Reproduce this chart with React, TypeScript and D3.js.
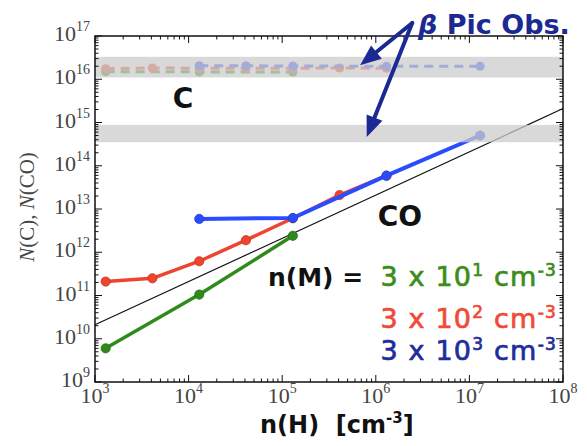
import React from "react";
import * as d3 from "d3";

// CO column densities (solid) for n(M) = 3e1, 3e2, 3e3 cm^-3, vs n(H) [cm^-3]
const coGreen: [number, number][] = [[1.3e3, 6.0e9], [1.3e4, 1.05e11], [1.3e5, 2.4e12]];
const coRed: [number, number][] = [[1.3e3, 2.1e11], [4.1e3, 2.5e11], [1.3e4, 6.2e11], [4.1e4, 1.9e12], [1.3e5, 6.1e12], [4.1e5, 2.1e13], [1.3e6, 5.9e13]];
const coBlue: [number, number][] = [[1.3e4, 5.9e12], [1.3e5, 6.2e12], [1.3e6, 5.9e13], [1.3e7, 5.0e14]];

// C column densities (dashed)
const cGreen: [number, number][] = [[1.3e3, 1.5e16], [1.3e4, 1.48e16], [1.3e5, 1.48e16]];
const cRed: [number, number][] = [[1.3e3, 1.75e16], [4.1e3, 1.82e16], [1.3e4, 1.8e16], [4.1e4, 1.8e16], [1.3e5, 1.8e16], [4.1e5, 1.82e16], [1.3e6, 1.8e16]];
const cBlue: [number, number][] = [[1.3e4, 2.05e16], [4.1e4, 2.05e16], [1.3e5, 2.02e16], [1.3e6, 2.0e16], [1.3e7, 2.0e16]];

// Reference line N = k * n(H)
const refLine: [number, number][] = [[1e3, 2.1e10], [1e8, 2.1e15]];

// Observed ranges (beta Pic)
const cBand = [1.1e16, 3.3e16];
const coBand = [3.5e14, 8.8e14];

const xDecades = [3, 4, 5, 6, 7, 8];
const yDecades = [9, 10, 11, 12, 13, 14, 15, 16, 17];

// legend rows: exponent of n(M), colour
const legendExp = ["1", "2", "3"];
const legendColors = ["#3d8d1c", "#f04a38", "#1f2d9c"];

const GREEN = "#2f8a1c";
const RED = "#ee4430";
const BLUE = "#2a4cff";
const NAVY = "#1a2a92";

const W = 587, H = 446;
const L = 95, R = 563, T = 36, B = 382;

export default function App() {
  const x = d3.scaleLog().domain([1e3, 1e8]).range([L, R]);
  const y = d3.scaleLog().domain([1e9, 1e17]).range([B, T]);
  const line = d3.line<[number, number]>().x(d => x(d[0])).y(d => y(d[1]));

  const minorX: number[] = [];
  xDecades.slice(0, -1).forEach(e => { for (let k = 2; k < 10; k++) minorX.push(k * 10 ** e); });
  const minorY: number[] = [];
  yDecades.slice(0, -1).forEach(e => { for (let k = 2; k < 10; k++) minorY.push(k * 10 ** e); });

  const solid = (data: [number, number][], color: string, w: number) => (
    <g>
      <path d={line(data) || ""} fill="none" stroke={color} strokeWidth={w} strokeLinejoin="round" />
      {data.map((d, i) => (
        <circle key={i} cx={x(d[0])} cy={y(d[1])} r={4.6} fill={color} stroke={d3.color(color)!.darker(0.6).toString()} strokeWidth={0.8} />
      ))}
    </g>
  );
  const dashed = (data: [number, number][], color: string) => (
    <g>
      <path d={line(data) || ""} fill="none" stroke={color} strokeWidth={3} strokeDasharray="9,6" />
      {data.map((d, i) => (
        <circle key={i} cx={x(d[0])} cy={y(d[1])} r={4.6} fill={color} />
      ))}
    </g>
  );

  // Annotation arrows in data coordinates
  const arrowFrom: [number, number] = [2.45e6, 2.0e17];
  const arrowTips: [number, number][] = [[6.8e5, 2.1e16], [8.0e5, 4.6e14]];
  const arrow = (tip: [number, number], key: number) => {
    const x0 = x(arrowFrom[0]), y0 = y(arrowFrom[1]);
    const x1 = x(tip[0]), y1 = y(tip[1]);
    const ang = Math.atan2(y1 - y0, x1 - x0);
    const hl = 21, hw = 8.5;
    const bx = x1 - hl * Math.cos(ang), by = y1 - hl * Math.sin(ang);
    const px = -Math.sin(ang), py = Math.cos(ang);
    const pts = [[x1, y1], [bx + hw * px, by + hw * py], [bx - hw * px, by - hw * py]];
    return (
      <g key={key}>
        <line x1={x0} y1={y0} x2={bx} y2={by} stroke={NAVY} strokeWidth={4} strokeLinecap="round" />
        <polygon points={pts.map(p => p.join(",")).join(" ")} fill={NAVY} />
      </g>
    );
  };

  const tickFont = "'Liberation Serif', 'DejaVu Serif', serif";
  const sans = "'DejaVu Sans', sans-serif";
  const legendY = [286, 328, 360];

  return (
    <svg width={W} height={H} style={{ position: "absolute", left: 0, top: 0, background: "#fff" }}>
      {/* reference line */}
      <path d={line(refLine) || ""} fill="none" stroke="#111" strokeWidth={1.2} />

      {/* CO columns */}
      {solid(coGreen, GREEN, 3.5)}
      {solid(coRed, RED, 3.5)}
      {solid(coBlue, BLUE, 4)}

      {/* C columns */}
      {dashed(cGreen, GREEN)}
      {dashed(cRed, RED)}
      {dashed(cBlue, BLUE)}

      {/* observed ranges, drawn over the curves */}
      {[cBand, coBand].map((b, i) => (
        <rect key={i} x={L} width={R - L} y={y(b[1])} height={y(b[0]) - y(b[1])} fill="#cccccc" opacity={0.75} />
      ))}

      {/* frame */}
      <rect x={L} y={T} width={R - L} height={B - T} fill="none" stroke="#111" strokeWidth={1.5} />

      {/* ticks, inward on all sides */}
      <g stroke="#111" strokeWidth={1}>
        {xDecades.map(e => (
          <g key={"xM" + e}>
            <line x1={x(10 ** e)} x2={x(10 ** e)} y1={B} y2={B - 7} />
            <line x1={x(10 ** e)} x2={x(10 ** e)} y1={T} y2={T + 7} />
          </g>
        ))}
        {minorX.map((v, i) => (
          <g key={"xm" + i}>
            <line x1={x(v)} x2={x(v)} y1={B} y2={B - 3.5} />
            <line x1={x(v)} x2={x(v)} y1={T} y2={T + 3.5} />
          </g>
        ))}
        {yDecades.map(e => (
          <g key={"yM" + e}>
            <line x1={L} x2={L + 7} y1={y(10 ** e)} y2={y(10 ** e)} />
            <line x1={R} x2={R - 7} y1={y(10 ** e)} y2={y(10 ** e)} />
          </g>
        ))}
        {minorY.map((v, i) => (
          <g key={"ym" + i}>
            <line x1={L} x2={L + 3.5} y1={y(v)} y2={y(v)} />
            <line x1={R} x2={R - 3.5} y1={y(v)} y2={y(v)} />
          </g>
        ))}
      </g>

      {/* tick labels */}
      <g fontFamily={tickFont} fill="#444">
        {xDecades.map(e => (
          <text key={"xl" + e} x={x(10 ** e)} y={403} textAnchor="middle" fontSize={22}>
            10<tspan fontSize={14} dy={-10}>{e}</tspan>
          </text>
        ))}
        {yDecades.map(e => (
          <text key={"yl" + e} x={90} y={y(10 ** e) + 5} textAnchor="end" fontSize={22}>
            10<tspan fontSize={14} dy={-10}>{e}</tspan>
          </text>
        ))}
      </g>

      {/* axis titles */}
      <text transform="translate(34,207) rotate(-90)" textAnchor="middle" fontFamily={tickFont} fontStyle="italic" fontSize={21} fill="#444">
        N<tspan fontStyle="normal">(C), </tspan>N<tspan fontStyle="normal">(CO)</tspan>
      </text>
      <text x={260} y={433} fontFamily={sans} fontWeight="bold" fontSize={24} fill="#111">
        {"n(H)\u00a0\u00a0[cm"}<tspan fontSize={15} dy={-10}>-3</tspan><tspan dy={10}>]</tspan>
      </text>

      {/* species labels */}
      <text x={183} y={108} textAnchor="middle" fontFamily={sans} fontWeight="bold" fontSize={28} fill="#111">C</text>
      <text x={400} y={226} textAnchor="middle" fontFamily={sans} fontWeight="bold" fontSize={28} fill="#111">CO</text>

      {/* density legend */}
      <g fontFamily={sans}>
        <text x={268} y={286} fontWeight="bold" fontSize={25} fill="#111">n(M) =</text>
        {legendExp.map((e, i) => (
          <text key={e} x={557} y={legendY[i]} textAnchor="end" fill={legendColors[i]} stroke={legendColors[i]} strokeWidth={0.7} fontSize={27} letterSpacing={1.2}>
            3 x 10<tspan fontSize={17} dy={-10}>{e}</tspan><tspan dy={10}> cm</tspan><tspan fontSize={17} dy={-10}>-3</tspan>
          </text>
        ))}
      </g>

      {/* observation annotation */}
      {arrowTips.map((t, i) => arrow(t, i))}
      <text x={418} y={34} fontFamily={sans} fontSize={27} fontWeight="bold" fill={NAVY}>
        <tspan fontStyle="italic">β</tspan> Pic Obs.
      </text>
    </svg>
  );
}
